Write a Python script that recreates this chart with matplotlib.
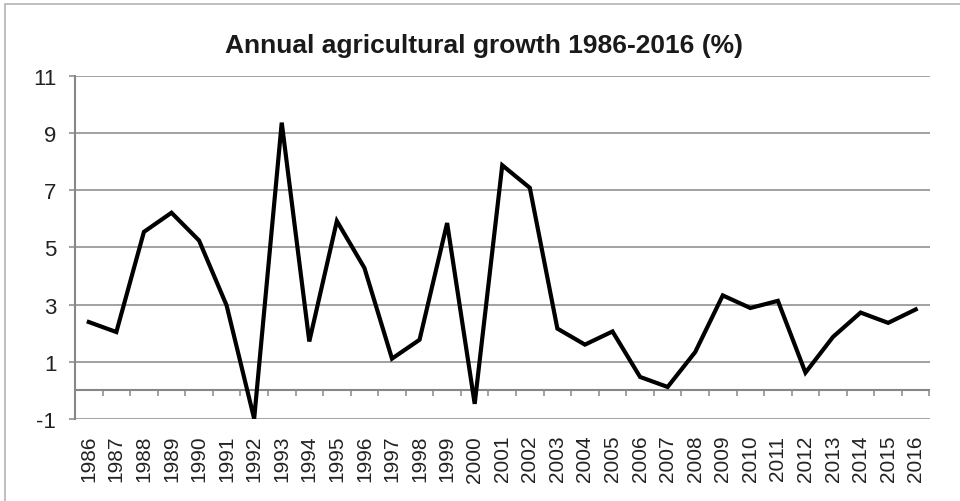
import matplotlib
matplotlib.use("Agg")
import matplotlib.pyplot as plt
import numpy as np
from matplotlib.patches import Rectangle

years = [str(y) for y in range(1986, 2017)]
growth = [2.39, 2.04, 5.54, 6.21, 5.24, 2.97, -0.99, 9.36, 1.71, 5.92, 4.28,
          1.11, 1.77, 5.85, -0.47, 7.87, 7.08, 2.16, 1.60, 2.06, 0.47,
          0.12, 1.34, 3.32, 2.88, 3.13, 0.62, 1.87, 2.72, 2.36, 2.83]
yticks = [-1, 1, 3, 5, 7, 9, 11]
title = "Annual agricultural growth 1986-2016 (%)"

plt.rcParams['font.family'] = ['Liberation Sans', 'DejaVu Sans']

fig = plt.figure(figsize=(9.6, 5.02), dpi=100)
W, H = 960, 502
ax = fig.add_axes([75 / W, 1 - 420 / H, (929.5 - 75) / W, (420 - 76.7) / H])

x = np.arange(len(years))
ax.plot(x, growth, color='black', lw=3.0, solid_joinstyle='miter', zorder=3)

grid_c = '#878787'
ax.set_xlim(-0.5, len(years) - 0.5)
ax.set_ylim(yticks[0], yticks[-1])
ax.set_yticks(yticks)
ax.set_yticklabels([str(t) for t in yticks])
ax.yaxis.grid(True, color=grid_c, lw=1.1)
ax.set_axisbelow(True)

for s in ['top', 'right']:
    ax.spines[s].set_visible(False)
ax.spines['left'].set_color(grid_c)
ax.spines['left'].set_linewidth(1.5)
ax.spines['bottom'].set_position(('data', 0))
ax.spines['bottom'].set_color(grid_c)
ax.spines['bottom'].set_linewidth(1.5)

ax.tick_params(axis='y', length=4.5, width=1.1, color=grid_c, pad=9,
               labelsize=16, labelcolor='#222222')
ax.set_xticks(x)
ax.set_xticklabels(years, rotation=90)
ax.set_xticks(np.arange(len(years) + 1) - 0.5, minor=True)
ax.tick_params(axis='x', which='major', length=0, pad=32, labelsize=15,
               labelcolor='#222222')
ax.tick_params(axis='x', which='minor', length=4.5, width=1.1, color=grid_c)

fig.text(484 / W, 1 - 46 / H, title, ha='center', va='center',
         fontsize=19, fontweight='bold', color='#1a1a1a')

fig.patches.append(Rectangle((5 / W, -0.1), 1.2, 1 - 4.5 / H + 0.1,
                             transform=fig.transFigure, fill=False,
                             edgecolor='#b4b4b4', lw=1.2))

fig.savefig('out.png', dpi=100)
